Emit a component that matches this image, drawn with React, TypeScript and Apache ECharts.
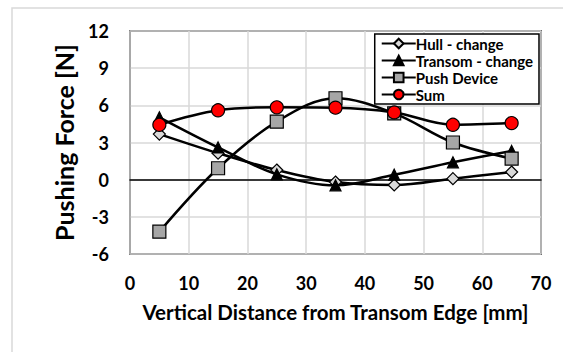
import React, { useEffect, useRef } from "react";
import * as echarts from "echarts";

const xValues = [5, 15, 25, 35, 45, 55, 65];
const hullChange = [3.68, 2.14, 0.78, -0.19, -0.43, 0.08, 0.62];
const transomChange = [5.03, 2.6, 0.43, -0.46, 0.4, 1.4, 2.32];
const pushDevice = [-4.2, 0.92, 4.68, 6.57, 5.35, 3.0, 1.7];
const sumValues = [4.43, 5.6, 5.84, 5.81, 5.43, 4.43, 4.57];
const seriesNames = ["Hull - change", "Transom - change", "Push Device", "Sum"];

const FONT = "Lato, 'Open Sans', sans-serif";

export default function App() {
  const ref = useRef<HTMLDivElement>(null);
  useEffect(() => {
    document.body.style.margin = "0";
    const chart = echarts.init(ref.current!, undefined, { renderer: "svg" });
    const pair = (ys: number[]) => xValues.map((x, i) => [x, ys[i]]);
    const mk = (
      name: string,
      ys: number[],
      symbol: string,
      size: number,
      fill: string,
      z: number
    ) => ({
      name,
      type: "line",
      data: pair(ys),
      smooth: 0.35,
      symbol,
      symbolSize: size,
      z,
      lineStyle: { color: "#000", width: 2.5 },
      itemStyle: { color: fill, borderColor: "#000", borderWidth: 1.2 },
    });
    chart.setOption({
      animation: false,
      backgroundColor: "#fff",
      graphic: [
        {
          type: "rect",
          shape: { x: 12, y: 8, width: 600, height: 400 },
          style: { fill: "none", stroke: "#d9d9d9", lineWidth: 1.5 },
          silent: true,
        },
      ],
      grid: {
        left: 130,
        top: 31,
        right: 22,
        bottom: 98,
        show: true,
        borderColor: "#000",
        borderWidth: 1.5,
      },
      legend: {
        data: seriesNames,
        orient: "vertical",
        right: 24,
        top: 34,
        itemWidth: 34,
        itemHeight: 12,
        itemGap: 2,
        padding: [2, 6, 2, 6],
        borderColor: "#000",
        borderWidth: 1.5,
        backgroundColor: "#fff",
        textStyle: {
          fontFamily: FONT,
          fontSize: 15,
          lineHeight: 15,
          fontWeight: "bold",
          color: "#000",
          padding: [0, 0, 0, -5],
        },
      },
      xAxis: {
        type: "value",
        min: 0,
        max: 70,
        interval: 10,
        name: "Vertical Distance from Transom Edge [mm]",
        nameLocation: "middle",
        nameGap: 47,
        nameTextStyle: {
          fontFamily: FONT,
          fontSize: 20.5,
          fontWeight: "bold",
          color: "#000",
        },
        axisLine: { show: true, lineStyle: { color: "#000", width: 1.5 } },
        axisTick: { show: false },
        splitLine: { show: true, lineStyle: { color: "#d9d9d9", width: 1.5 } },
        axisLabel: {
          margin: 20,
          fontFamily: FONT,
          fontSize: 18,
          fontWeight: "bold",
          color: "#000",
        },
      },
      yAxis: {
        type: "value",
        min: -6,
        max: 12,
        interval: 3,
        name: "Pushing Force [N]",
        nameLocation: "middle",
        nameGap: 54,
        nameTextStyle: {
          fontFamily: FONT,
          fontSize: 25,
          fontWeight: "bold",
          color: "#000",
        },
        axisLine: { show: true, lineStyle: { color: "#a6a6a6", width: 1.5 } },
        axisTick: { show: false },
        splitLine: { show: true, lineStyle: { color: "#d9d9d9", width: 1.5 } },
        axisLabel: {
          margin: 21,
          fontFamily: FONT,
          fontSize: 18,
          fontWeight: "bold",
          color: "#000",
        },
      },
      series: [
        mk(seriesNames[0], hullChange, "diamond", 12, "#d9d9d9", 3),
        mk(seriesNames[1], transomChange, "triangle", 11, "#000", 4),
        mk(seriesNames[2], pushDevice, "rect", 13, "#a6a6a6", 5),
        mk(seriesNames[3], sumValues, "circle", 13, "#ff0000", 6),
      ],
    });
    return () => chart.dispose();
  }, []);
  return <div ref={ref} style={{ width: 563, height: 352 }} />;
}
